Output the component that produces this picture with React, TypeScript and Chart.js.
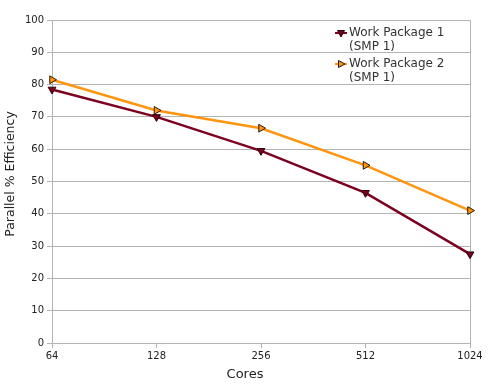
import React, { useEffect, useRef } from "react";
import { Chart, registerables } from "chart.js";

Chart.register(...registerables);

const categories = ["64", "128", "256", "512", "1024"];
const wp1Values = [78.5, 70, 59.5, 46.5, 27.5];
const wp2Values = [81.5, 72, 66.5, 55, 41];
const seriesLabels = [["Work Package 1", "(SMP 1)"], ["Work Package 2", "(SMP 1)"]];
const yTicks = [0, 10, 20, 30, 40, 50, 60, 70, 80, 90, 100];
const xTitle = "Cores";
const yTitle = "Parallel % Efficiency";

const FONT = "'DejaVu Sans', sans-serif";
const GRID = "#b3b3b3";
const TEXT = "#222222";

const legendPlugin = {
  id: "customLegend",
  afterDraw(chart: any) {
    const { ctx, chartArea, width } = chart;
    ctx.save();
    // axis titles
    ctx.fillStyle = TEXT;
    ctx.textAlign = "center";
    ctx.textBaseline = "middle";
    ctx.font = `13px ${FONT}`;
    ctx.fillText(xTitle, width / 2 - 5, chartArea.bottom + 32);
    ctx.save();
    ctx.translate(11, chartArea.top + 154);
    ctx.rotate(-Math.PI / 2);
    ctx.font = `12.5px ${FONT}`;
    ctx.fillText(yTitle, 0, 0);
    ctx.restore();

    ctx.textAlign = "left";
    ctx.font = `12px ${FONT}`;
    chart.data.datasets.forEach((ds: any, i: number) => {
      const top = chartArea.top + 13 + i * 31;
      const mx = chartArea.right - 129;
      ctx.strokeStyle = ds.borderColor;
      ctx.lineWidth = 2;
      ctx.beginPath();
      ctx.moveTo(mx - 6, top);
      ctx.lineTo(mx + 6, top);
      ctx.stroke();
      ctx.save();
      ctx.translate(mx, top);
      ctx.rotate((ds.pointRotation * Math.PI) / 180);
      ctx.beginPath();
      ctx.moveTo(0, -4);
      ctx.lineTo(3.5, 2.5);
      ctx.lineTo(-3.5, 2.5);
      ctx.closePath();
      ctx.fillStyle = ds.pointBackgroundColor;
      ctx.fill();
      ctx.strokeStyle = ds.pointBorderColor;
      ctx.lineWidth = 1;
      ctx.stroke();
      ctx.restore();
      ctx.fillStyle = "#333333";
      seriesLabels[i].forEach((t, j) => ctx.fillText(t, mx + 8, top + j * 14));
    });
    ctx.restore();
  },
};

export default function App() {
  const ref = useRef<HTMLCanvasElement>(null);
  useEffect(() => {
    if (!ref.current) return;
    const chart = new Chart(ref.current, {
      type: "line",
      data: {
        labels: categories,
        datasets: [
          {
            label: "Work Package 1 (SMP 1)",
            data: wp1Values,
            borderColor: "#7e0021",
            backgroundColor: "#7e0021",
            borderWidth: 2.5,
            pointStyle: "triangle",
            pointRotation: 180,
            pointRadius: 4.5,
            pointBackgroundColor: "#7e0021",
            pointBorderColor: "#2a0008",
            pointBorderWidth: 1,
            tension: 0,
          },
          {
            label: "Work Package 2 (SMP 1)",
            data: wp2Values,
            borderColor: "#ff950e",
            backgroundColor: "#ff950e",
            borderWidth: 2.5,
            pointStyle: "triangle",
            pointRotation: 90,
            pointRadius: 4.5,
            pointBackgroundColor: "#ff950e",
            pointBorderColor: "#2a1a00",
            pointBorderWidth: 1,
            tension: 0,
          },
        ] as any,
      },
      options: {
        animation: false,
        responsive: true,
        maintainAspectRatio: false,
        layout: { padding: { top: 20, right: 30, left: 0, bottom: 0 } },
        plugins: { legend: { display: false }, tooltip: { enabled: false } },
        scales: {
          x: {
            type: "category",
            offset: false,
            grid: {
              color: (c: any) => (c.index === categories.length - 1 ? GRID : "transparent"),
              tickColor: GRID,
              tickLength: 5,
              lineWidth: 1,
            },
            border: { color: GRID, width: 1 },
            ticks: { color: TEXT, font: { family: FONT, size: 10 }, padding: 2, maxRotation: 0 },
            afterFit: (s: any) => { s.height = 44; },
          },
          y: {
            min: 0,
            max: 100,
            afterBuildTicks: (s: any) => { s.ticks = yTicks.map((v) => ({ value: v })); },
            grid: { color: GRID, tickColor: GRID, tickLength: 5, lineWidth: 1 },
            border: { color: GRID, width: 1 },
            ticks: { color: TEXT, font: { family: FONT, size: 10 }, padding: 3 },
            afterFit: (s: any) => { s.width = 52; },
          },
        },
      },
      plugins: [legendPlugin],
    });
    return () => chart.destroy();
  }, []);
  return (
    <div style={{ position: "fixed", left: 0, top: 0, width: 500, height: 387, background: "#fff" }}>
      <canvas ref={ref} />
    </div>
  );
}
